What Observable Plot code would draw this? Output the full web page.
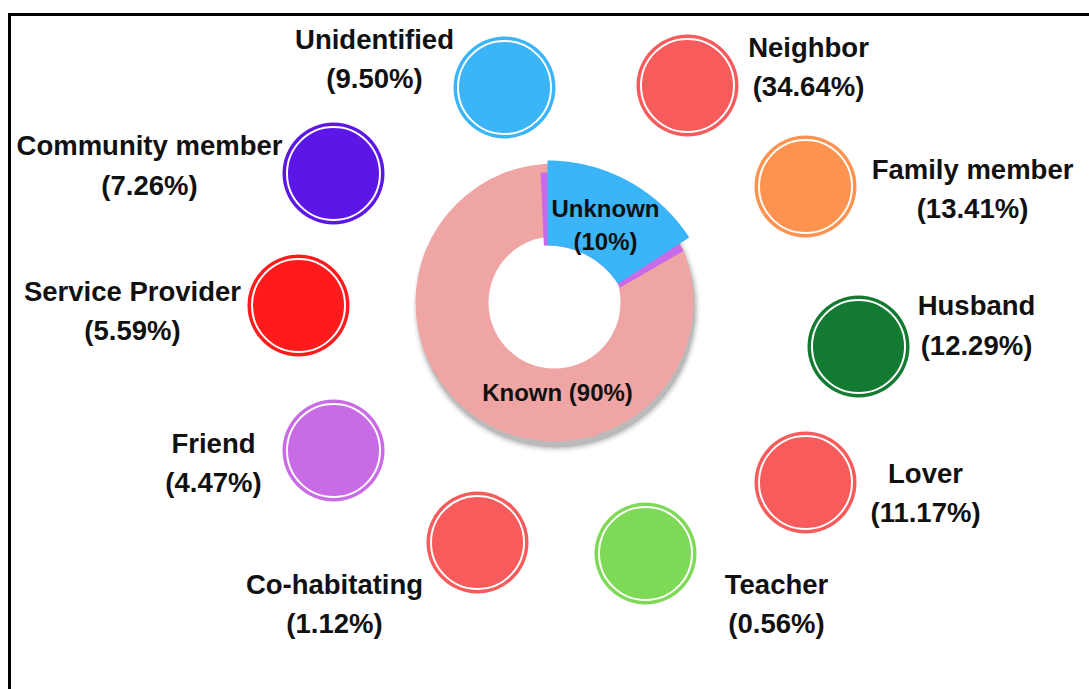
<!DOCTYPE html>
<html><head><meta charset="utf-8">
<script src="https://cdn.jsdelivr.net/npm/d3@7"></script>
<script src="https://cdn.jsdelivr.net/npm/@observablehq/plot@0.6"></script>
<style>
html,body{margin:0;padding:0;background:#fff;}
#wrap{position:relative;width:1089px;height:689px;overflow:hidden;background:#fff;}
#frame{position:absolute;left:8px;top:13px;width:2000px;height:2000px;border-top:3px solid #000;border-left:3px solid #000;pointer-events:none;}
</style></head><body><div id="wrap"><div id="chart"></div><div id="frame"></div></div>
<script>
// ---- data ----
const categories = ["Unidentified","Neighbor","Community member","Family member","Service Provider","Husband","Friend","Lover","Co-habitating","Teacher"];
const percents = ["9.50","34.64","7.26","13.41","5.59","12.29","4.47","11.17","1.12","0.56"];
const donutLabels = ["Known","Unknown"];
const donutValues = [90, 10];

// ---- styles ----
const bubbleColors = ["#3AB5F7","#F75B5B","#5C17E8","#FD934F","#FF1B1B","#137B31","#C86BE5","#F75B5B","#F75B5B","#7ED957"];
const knownColor = "#F0A5A5", unknownColor = "#3AB5F7", seamColor = "#C96AE8";

// ---- layout (pixels) ----
const W = 1089, H = 689;
const bubblePos = [[504,87],[687,85],[333,173],[805,186],[298,305],[858,346],[333,450],[805,482],[477,542],[645,553]];
const labelPos = [[374,55.5],[808,63.5],[149,162],[972,185.5],[132,307.5],[976,322],[213,459.5],[925,489.5],[334,600.5],[776,600.5]];
const donut = {cx:554, cy:302, r0:66, r1:139};
// the infographic draws the Unknown slice magnified and pulled out
const slice = {cx:547, cy:329, r0:84, r1:169, sweep:57, seamR1:157, seam:2.5};
const donutLabelPos = [[557,390],[605,222]];
const shadowLayers = [{r:144,o:0.04},{r:142,o:0.06},{r:140.5,o:0.08},{r:139,o:0.12}];

const bubbles = categories.map((c,i)=>({name:c, pct:percents[i], color:bubbleColors[i],
  x:bubblePos[i][0], y:bubblePos[i][1], lx:labelPos[i][0], ly:labelPos[i][1]}));

function wedge(cx, cy, r0, r1, a0, a1, n=80){
  const pts = [];
  const rad = d=>d*Math.PI/180;
  for(let k=0;k<=n;k++){const a=rad(a0+(a1-a0)*k/n); pts.push({x:cx+r1*Math.sin(a), y:cy-r1*Math.cos(a)});}
  for(let k=n;k>=0;k--){const a=rad(a0+(a1-a0)*k/n); pts.push({x:cx+r0*Math.sin(a), y:cy-r0*Math.cos(a)});}
  return pts;
}
const seamPts = wedge(slice.cx, slice.cy, slice.r0, slice.seamR1, -slice.seam, slice.sweep+slice.seam+0.5);
const unknownPts = wedge(slice.cx, slice.cy, slice.r0, slice.r1, 0, slice.sweep);

const donutText = [
  {x:donutLabelPos[0][0], y:donutLabelPos[0][1], t:`${donutLabels[0]} (${donutValues[0]}%)`},
  {x:donutLabelPos[1][0], y:donutLabelPos[1][1], t:`${donutLabels[1]}\n(${donutValues[1]}%)`}
];

const font = "'Liberation Sans', Arial, sans-serif";
const plot = Plot.plot({
  width: W, height: H, margin: 0,
  x: {domain:[0,W], range:[0,W], axis:null},
  y: {domain:[0,H], range:[0,H], axis:null},
  color: {type:"identity"},
  style: {background:"transparent"},
  marks: [
    ...shadowLayers.map(s => Plot.dot([donut], {x:"cx", y:"cy", r:s.r, dx:2, dy:6, fill:"#000", fillOpacity:s.o})),
    Plot.dot([donut], {x:"cx", y:"cy", r:donut.r1, fill:knownColor}),
    Plot.dot([donut], {x:"cx", y:"cy", r:donut.r0, fill:"white"}),
    Plot.line(seamPts, {x:"x", y:"y", fill:seamColor, stroke:"none"}),
    Plot.line(unknownPts, {x:"x", y:"y", fill:unknownColor, stroke:"none"}),
    Plot.text(donutText, {x:"x", y:"y", text:"t", fontSize:24, fontWeight:"bold", lineHeight:1.38, fontFamily:font, fill:"#111"}),
    Plot.dot(bubbles, {x:"x", y:"y", r:51, fill:"color"}),
    Plot.dot(bubbles, {x:"x", y:"y", r:46.5, fill:"none", stroke:"white", strokeWidth:2}),
    Plot.text(bubbles, {x:"lx", y:"ly", text:d=>`${d.name}\n(${d.pct}%)`, fontSize:27.5, fontWeight:"bold", lineHeight:1.42, fontFamily:font, fill:"#111"})
  ]
});
document.getElementById("chart").appendChild(plot);
</script></body></html>
